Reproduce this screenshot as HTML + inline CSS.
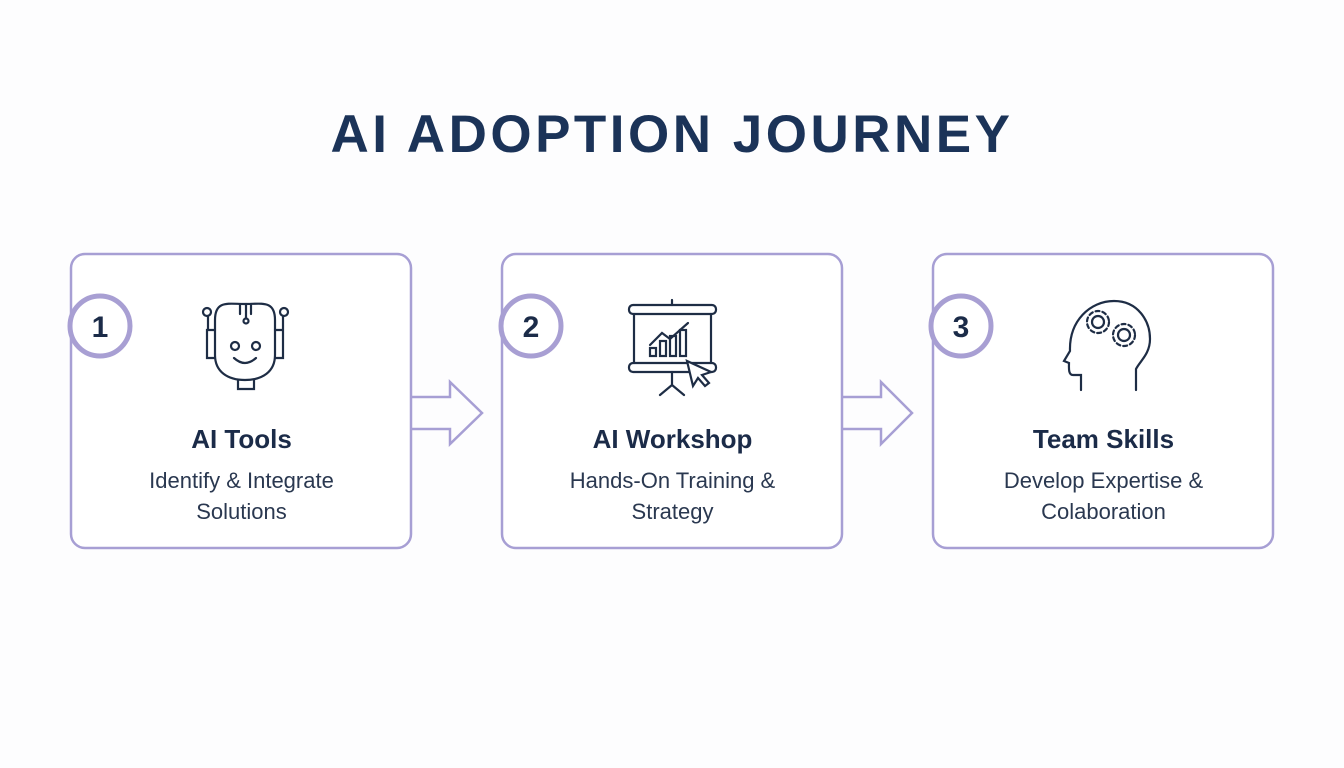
<!DOCTYPE html>
<html><head><meta charset="utf-8"><style>
body{margin:0;width:1344px;height:768px;background:#fdfdfe;font-family:"Liberation Sans",sans-serif;overflow:hidden;position:relative}
.t{position:absolute;left:0;width:1344px;top:104px;text-align:center;font-size:53px;font-weight:bold;color:#1b3358;letter-spacing:3.5px}
.h{position:absolute;width:341px;text-align:center;font-size:26px;font-weight:bold;color:#1b2b48;top:424px}
.s{position:absolute;width:341px;text-align:center;font-size:22px;color:#2a3850;top:465px;line-height:31px}
</style></head><body>
<div class="t">AI ADOPTION JOURNEY</div>
<svg width="1344" height="768" style="position:absolute;left:0;top:0" fill="none">
<g stroke="#a79fd4" stroke-width="2.5">
<rect x="71" y="254" width="340" height="294" rx="14" fill="#fff"/>
<rect x="502" y="254" width="340" height="294" rx="14" fill="#fff"/>
<rect x="933" y="254" width="340" height="294" rx="14" fill="#fff"/>
<path d="M411 397H450V382L482 413L450 444V429H411"/>
<path d="M842 397H881V382L912 413L881 444V429H842"/>
</g>
<g stroke="#a89fd3" stroke-width="5" fill="#fff">
<circle cx="100" cy="326" r="30"/><circle cx="531" cy="326" r="30"/><circle cx="961" cy="326" r="30"/>
</g>
<g font-family="Liberation Sans" font-weight="bold" font-size="30" fill="#1b2b48" text-anchor="middle">
<text x="100" y="337">1</text><text x="531" y="337">2</text><text x="961" y="337">3</text>
</g>
<g stroke="#1e2d45" stroke-width="2.2" stroke-linecap="round">
<path d="M215 320C215 300 228 304 245 304S275 300 275 320V355C275 372 262 380 245 380S215 372 215 355Z"/>
<path d="M215 330h-8v28h8M275 330h8v28h-8M208 317v13M283 317v13"/>
<circle cx="207" cy="312" r="4"/><circle cx="284" cy="312" r="4"/>
<circle cx="235" cy="346" r="4"/><circle cx="256" cy="346" r="4"/>
<path d="M234 358q11 10 22 0M238 380v9h16v-9M240 304v10M246 304v14M251 304v10"/>
<circle cx="246" cy="321" r="2.5"/>
<rect x="629" y="305" width="87" height="9" rx="4"/><rect x="629" y="363" width="87" height="9" rx="4"/>
<path d="M634 314v49M711 314v49M672 305v-5M672 372v13M672 385l-12 10M672 385l12 10"/>
<path d="M650 345l12-12 8 6 18-16"/>
<rect x="650" y="348" width="6" height="8"/><rect x="660" y="341" width="6" height="15"/><rect x="670" y="336" width="6" height="20"/><rect x="680" y="330" width="6" height="26"/>
<path d="M687 361l6 25 5-8 7 8 4-3-7-8 9-3Z" fill="#fff"/>
<path d="M1081 390v-15h-8c-5 0-4-8-4-12l-5-2 6-10c-1-30 20-50 44-50s36 20 36 38c0 15-10 22-14 30v21"/>
<circle cx="1098" cy="322" r="6"/><circle cx="1124" cy="335" r="6"/>
<circle cx="1098" cy="322" r="11" stroke-dasharray="4 3"/><circle cx="1124" cy="335" r="11" stroke-dasharray="4 3"/>
</g>
</svg>
<div class="h" style="left:71px">AI Tools</div>
<div class="s" style="left:71px">Identify &amp; Integrate<br>Solutions</div>
<div class="h" style="left:502px">AI Workshop</div>
<div class="s" style="left:502px">Hands-On Training &amp;<br>Strategy</div>
<div class="h" style="left:933px">Team Skills</div>
<div class="s" style="left:933px">Develop Expertise &amp;<br>Colaboration</div>
</body></html>
